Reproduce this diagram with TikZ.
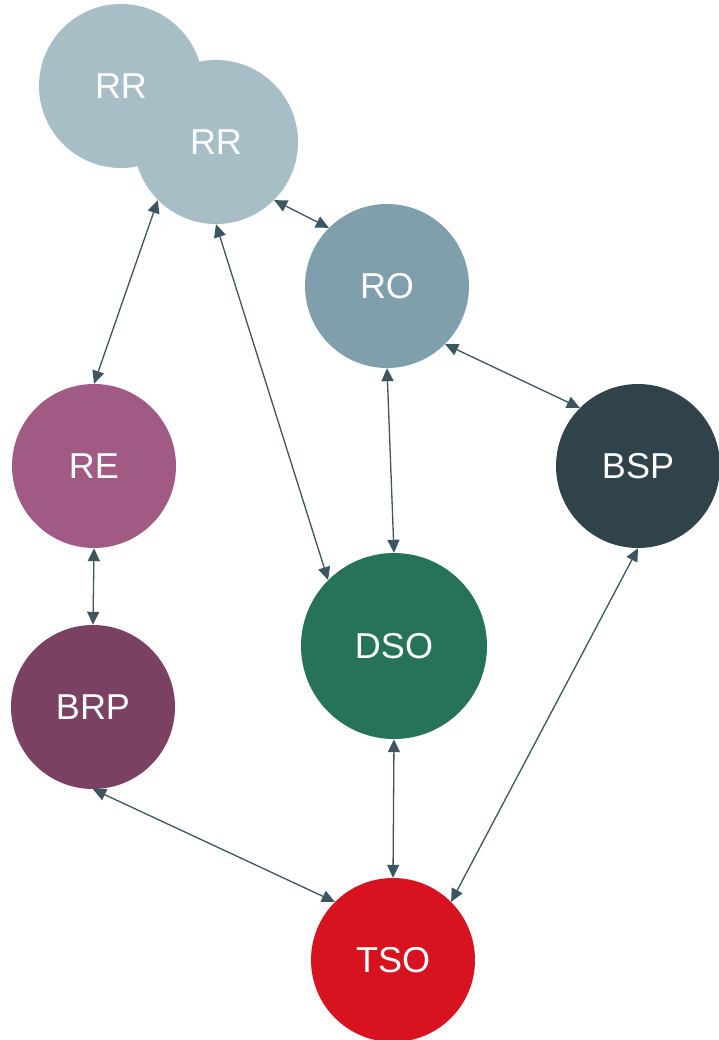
\documentclass[tikz,border=0pt]{standalone}
\usepackage{fontspec}
\setmainfont{Liberation Sans}
\usepackage{xcolor}
\usepackage{tikz}
\usetikzlibrary{arrows.meta}

\definecolor{rrcol}{HTML}{A8BEC7}
\definecolor{rocol}{HTML}{7F9FAD}
\definecolor{recol}{HTML}{A05A83}
\definecolor{bspcol}{HTML}{30434B}
\definecolor{dsocol}{HTML}{26735A}
\definecolor{brpcol}{HTML}{7A4163}
\definecolor{tsocol}{HTML}{D7131F}
\definecolor{linkcol}{HTML}{3C5560}

\begin{document}
\begin{tikzpicture}[
      x=1pt, y=-1pt,
      >={Triangle[length=13pt, width=12pt]},
      role/.style={circle, inner sep=0pt, minimum size=164pt, text=white, font=\fontsize{36}{40}\selectfont},
      arr/.style={<->, line width=1.3pt, draw=linkcol, fill=linkcol},
    ]
    \useasboundingbox (0,0) rectangle (718,1040);
    \node[role, fill=rrcol] (rr1) at (121,86) {RR};
    \node[role, fill=rrcol] (rr2) at (216,142) {RR};
    \node[role, fill=rocol] (ro) at (387,286) {RO};
    \node[role, fill=recol] (re) at (94,466) {RE};
    \node[role, fill=bspcol] (bsp) at (638,466) {BSP};
    \node[role, fill=dsocol, minimum size=186pt] (dso) at (394,646) {DSO};
    \node[role, fill=brpcol] (brp) at (93,707) {BRP};
    \node[role, fill=tsocol] (tso) at (393,960) {TSO};
    \draw[arr] (rr2.south west) -- (re.north);
    \draw[arr] (rr2.south) -- (dso.north west);
    \draw[arr] (rr2.south east) -- (ro.north west);
    \draw[arr] (ro.south) -- (dso.north);
    \draw[arr] (ro.south east) -- (bsp.north west);
    \draw[arr] (re.south) -- (brp.north);
    \draw[arr] (brp.south) -- (tso.north west);
    \draw[arr] (dso.south) -- (tso.north);
    \draw[arr] (bsp.south) -- (tso.north east);
  \end{tikzpicture}
\end{document}
